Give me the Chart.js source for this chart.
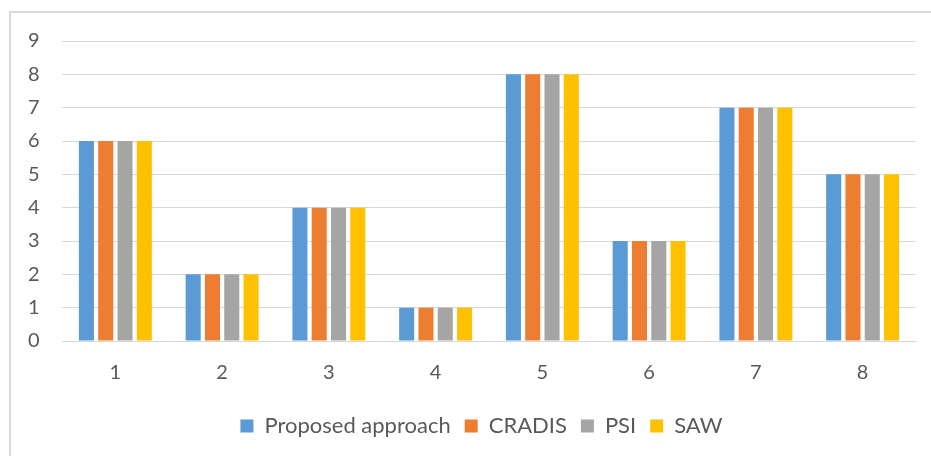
<!DOCTYPE html>
<html>
<head>
<meta charset="utf-8">
<script src="https://cdn.jsdelivr.net/npm/chart.js@4"></script>
<style>
  html, body { margin: 0; padding: 0; background: #ffffff; }
  #wrap { position: relative; width: 931px; height: 456px; }
  #frame { position: absolute; left: 9px; top: 11px; right: -5px; bottom: -5px;
           border-left: 2px solid #D9D9D9; border-top: 2px solid #D9D9D9; }
  canvas { position: absolute; left: 0; top: 0; }
</style>
</head>
<body>
<div id="wrap">
  <div id="frame"></div>
  <canvas id="c" width="931" height="456"></canvas>
</div>
<script>
const categories = ['1', '2', '3', '4', '5', '6', '7', '8'];
const proposedApproach = [6, 2, 4, 1, 8, 3, 7, 5];
const cradis = [6, 2, 4, 1, 8, 3, 7, 5];
const psi = [6, 2, 4, 1, 8, 3, 7, 5];
const saw = [6, 2, 4, 1, 8, 3, 7, 5];
const seriesNames = ['Proposed approach', 'CRADIS', 'PSI', 'SAW'];
const seriesColors = ['#5B9BD5', '#ED7D31', '#A5A5A5', '#FFC000'];
const seriesValues = [proposedApproach, cradis, psi, saw];

const FONT = "Lato, 'Open Sans', sans-serif";
const TEXT = '#595959';

new Chart(document.getElementById('c'), {
  type: 'bar',
  data: {
    labels: categories,
    datasets: seriesNames.map((name, i) => ({
      label: name,
      data: seriesValues[i],
      backgroundColor: seriesColors[i],
      borderWidth: 0,
      barPercentage: 0.78,
      categoryPercentage: 0.723
    }))
  },
  options: {
    responsive: false,
    animation: false,
    devicePixelRatio: 1,
    layout: { padding: { left: 47, right: 15, top: 41, bottom: 9 } },
    plugins: {
      tooltip: { enabled: false },
      legend: {
        position: 'bottom',
        labels: {
          color: TEXT,
          font: { family: FONT, size: 22 },
          boxWidth: 13,
          boxHeight: 13,
          padding: 14
        }
      }
    },
    scales: {
      x: {
        afterFit: (s) => { s.height = 60; },
        grid: { display: false, drawTicks: false },
        border: { display: true, color: '#D9D9D9', width: 1 },
        ticks: { color: TEXT, font: { family: FONT, size: 20 }, padding: 20 }
      },
      y: {
        min: 0, max: 9,
        afterFit: (s) => { s.width = 15; },
        grid: { color: '#D9D9D9', lineWidth: 1, drawTicks: false },
        border: { display: false },
        ticks: { stepSize: 1, color: TEXT, font: { family: FONT, size: 20 },
                 mirror: true, crossAlign: 'near', padding: -34 }
      }
    }
  }
});
</script>
</body>
</html>
